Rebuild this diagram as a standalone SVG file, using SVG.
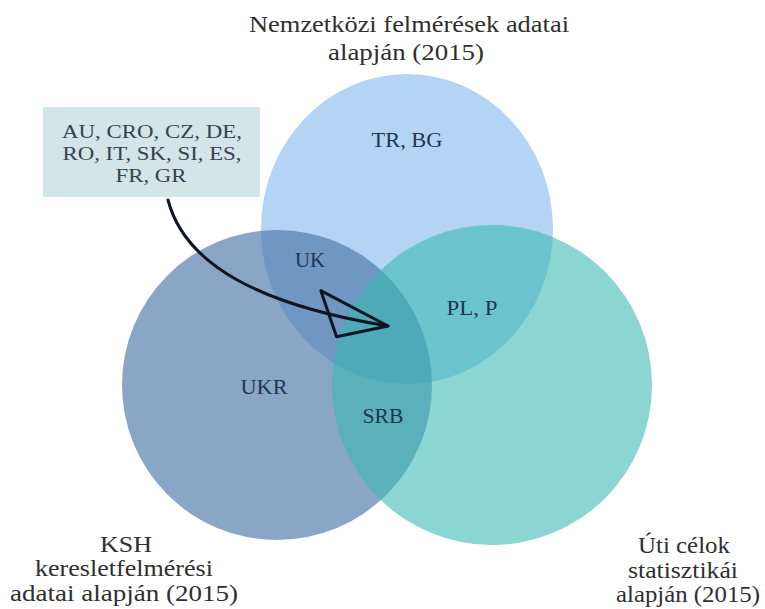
<svg xmlns="http://www.w3.org/2000/svg" width="765" height="609" viewBox="0 0 765 609">
  <style>
    .outer { font-family: "Liberation Serif", "DejaVu Serif", serif; font-size: 23px; fill: #2f2f2f; text-anchor: middle; }
    .inner { font-family: "Liberation Serif", "DejaVu Serif", serif; font-size: 20px; fill: #1f3550; text-anchor: middle; }
    .boxtxt { font-family: "Liberation Serif", "DejaVu Serif", serif; font-size: 19px; fill: #34424f; text-anchor: middle; }
    .conn { fill: none; stroke: #0e1624; stroke-width: 3; stroke-linecap: round; }
  </style>
  <defs>
    <marker id="openArrow" markerUnits="userSpaceOnUse" viewBox="-80 -30 90 60" markerWidth="90" markerHeight="60" refX="0" refY="0" orient="auto" overflow="visible">
      <path d="M-72,-24 L0,0 L-49,19 Z" fill="none" stroke="#0e1624" stroke-width="3" stroke-linejoin="round"/>
    </marker>
  </defs>
  <rect x="0" y="0" width="765" height="609" fill="#ffffff"/>

  <g id="set-nemzetkozi">
    <ellipse cx="407" cy="229" rx="146" ry="155" fill="#b3d4f4"/>
  </g>
  <g id="set-ksh">
    <circle cx="277" cy="385" r="155" fill="#4b76a7" fill-opacity="0.65"/>
  </g>
  <g id="set-uti">
    <circle cx="492" cy="385" r="160" fill="#37b7b3" fill-opacity="0.58"/>
  </g>

  <g id="title-nemzetkozi">
    <text class="outer" x="409" y="32" textLength="320" lengthAdjust="spacingAndGlyphs">Nemzetközi felmérések adatai</text>
    <text class="outer" x="406" y="60" textLength="156" lengthAdjust="spacingAndGlyphs">alapján (2015)</text>
  </g>
  <g id="title-ksh">
    <text class="outer" x="126" y="552" textLength="52" lengthAdjust="spacingAndGlyphs">KSH</text>
    <text class="outer" x="124" y="576" textLength="178" lengthAdjust="spacingAndGlyphs">keresletfelmérési</text>
    <text class="outer" x="124" y="601" textLength="228" lengthAdjust="spacingAndGlyphs">adatai alapján (2015)</text>
  </g>
  <g id="title-uti">
    <text class="outer" x="684" y="553" textLength="92" lengthAdjust="spacingAndGlyphs">Úti célok</text>
    <text class="outer" x="683" y="578" textLength="110" lengthAdjust="spacingAndGlyphs">statisztikái</text>
    <text class="outer" x="688" y="602" textLength="144" lengthAdjust="spacingAndGlyphs">alapján (2015)</text>
  </g>

  <g id="region-tr-bg"><text class="inner" x="407" y="147" textLength="71" lengthAdjust="spacingAndGlyphs">TR, BG</text></g>
  <g id="region-uk"><text class="inner" x="310" y="267" textLength="30" lengthAdjust="spacingAndGlyphs">UK</text></g>
  <g id="region-pl-p"><text class="inner" x="472" y="315" textLength="51" lengthAdjust="spacingAndGlyphs">PL, P</text></g>
  <g id="region-ukr"><text class="inner" x="264" y="394" textLength="47" lengthAdjust="spacingAndGlyphs">UKR</text></g>
  <g id="region-srb"><text class="inner" x="383" y="423" textLength="41" lengthAdjust="spacingAndGlyphs">SRB</text></g>

  <g id="callout-box">
    <rect x="43" y="107" width="217" height="90" fill="#d3e5e6"/>
    <text class="boxtxt" x="152" y="138" textLength="180" lengthAdjust="spacingAndGlyphs">AU, CRO, CZ, DE,</text>
    <text class="boxtxt" x="152" y="160" textLength="179" lengthAdjust="spacingAndGlyphs">RO, IT, SK, SI, ES,</text>
    <text class="boxtxt" x="151" y="182" textLength="71" lengthAdjust="spacingAndGlyphs">FR, GR</text>
  </g>

  <g id="connectors">
    <path class="conn" d="M168,200 C185,265 260,305 388,326" marker-end="url(#openArrow)"/>
  </g>
</svg>
